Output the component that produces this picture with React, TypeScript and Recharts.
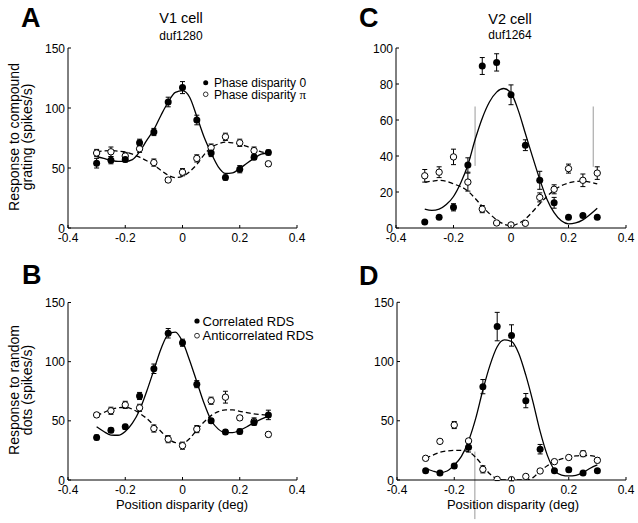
import React from "react";
import { ComposedChart, Line, Scatter, XAxis, YAxis, ErrorBar, ReferenceLine } from "recharts";

const FONT = '"Liberation Sans", Arial, sans-serif';

// measured disparities
const pointX = [-0.3, -0.25, -0.2, -0.15, -0.1, -0.05, 0, 0.05, 0.1, 0.15, 0.2, 0.25, 0.3];
const curveX = [
  -0.3, -0.275, -0.25, -0.225, -0.2, -0.175, -0.15, -0.125, -0.1, -0.075, -0.05, -0.025, 0,
  0.025, 0.05, 0.075, 0.1, 0.125, 0.15, 0.175, 0.2, 0.225, 0.25, 0.275, 0.3,
];

const xTicks = [-0.4, -0.2, 0, 0.2, 0.4];
const xTickLabels = ["-0.4", "-0.2", "0", "0.2", "0.4"];
const ticks150 = [0, 50, 100, 150];
const ticks100 = [0, 20, 40, 60, 80, 100];

// A: V1 cell, compound grating
const aFilled = [54, 56.5, 57, 71, 80, 105, 117, 90, 62.5, 42, 49, 59, 63];
const aFilledErr = [4, 3, 2, 3, 3, 4, 5, 4, 3, 2, 3, 2, 2];
const aOpen = [62.5, 63.5, 60, 66, 54.5, 40, 46.5, 58, 67, 76, 71, 64.5, 53.5];
const aOpenErr = [3, 4, 3, 3, 3, 2, 3, 3, 3, 3, 3, 3, 2];
const aSolid = [59.5, 58, 56.5, 55.5, 55.5, 57, 63.5, 73, 82, 94, 105, 113, 114.5, 109, 93, 76, 62.5, 51, 45.5, 46, 49.5, 54, 58, 61.5, 62.5];
const aDashed = [63.5, 64.2, 64.5, 64, 63.5, 61.5, 59, 56, 52.5, 48, 44, 42, 43, 47, 53, 61, 67, 70, 71.5, 71, 70, 68, 65.5, 63.5, 62.5];

// B: V1 cell, random dots
const bFilled = [36, 42, 45, 71, 94, 124, 116, 81, 50, 40.5, 41, 48.5, 55];
const bFilledErr = [2, 2, 2, 3, 4, 4, 3, 3, 2, 2, 2, 2, 4];
const bOpen = [55, 58.5, 63.5, 61, 43.5, 34.5, 29, 43, 67, 70, 52.5, 49.5, 38.5];
const bOpenErr = [2, 3, 3, 3, 3, 3, 3, 3, 3, 5, 2, 3, 2];
const bSolid = [45, 41, 38, 37.8, 41, 48, 59, 75, 93, 111, 123, 125, 117, 101, 83, 65, 50.5, 43, 40, 40, 42, 45, 48.5, 51.5, 54];
const bDashed = [54.4, 57, 59.8, 61, 61.5, 59.8, 56.4, 52, 46.5, 41, 35, 31.6, 31, 35, 42.3, 49, 54.4, 57.8, 59.2, 59.2, 58, 57, 55.8, 55.3, 54.7];

// C: V2 cell, compound grating
const cFilled = [3.3, 6, 11.5, 35, 90, 92, 74, 46, 26.5, 14, 6, 7, 6];
const cFilledErr = [0.8, 0.8, 2, 4, 4.7, 4.8, 5.5, 3, 5, 3, 0.8, 0.8, 0.8];
const cOpen = [29, 31, 39.5, 25.5, 10.5, 2.8, 1.7, 2.6, 17, 21.5, 33, 26.5, 30.5];
const cOpenErr = [3.5, 3, 4.3, 5, 2, 1, 1, 1, 2.5, 2.5, 2.5, 3.5, 3.5];
const cSolid = [10.5, 9.8, 10.5, 13, 17.5, 25, 35, 49, 61, 70, 75.5, 77.5, 75, 65.5, 52.5, 39.5, 27, 16, 8.5, 4, 2.3, 2.8, 4.5, 7.5, 11];
const cDashed = [25.5, 26, 26.5, 26, 24.5, 23, 20.5, 16.5, 12, 8, 4.5, 2.2, 1.2, 2.5, 5, 9, 13.5, 17.5, 21, 23.5, 25, 25.8, 26, 25.5, 24.5];
const cGrayLines = [
  [{ x: -0.125, y: 34.5 }, { x: -0.125, y: 67.5 }],
  [{ x: 0.286, y: 34 }, { x: 0.286, y: 67.5 }],
];

// D: V2 cell, random dots
const dFilled = [7.9, 5.9, 11.8, 27.6, 78.8, 129.5, 122, 67, 26, 7.9, 8.7, 5.9, 7.9];
const dFilledErr = [1.5, 1.5, 2, 4, 6, 12, 9, 6, 4, 1.5, 1.5, 1.5, 1.5];
const dOpen = [18.3, 32.6, 46.4, 33, 9, 0.5, 0.3, 3, 7.6, 15.5, 19, 22.2, 16.6];
const dOpenErr = [1.5, 1.5, 3, 2, 3, 1, 1, 1, 1.5, 1.5, 1.5, 2.5, 2];
const dSolid = [9.9, 7.6, 6.2, 7.6, 12.7, 20, 33, 52, 76, 97, 112.5, 118.2, 117, 107, 88.5, 66, 41, 21, 8.4, 4.2, 3.4, 3.9, 6.2, 9.9, 12.7];
const dDashed = [18.3, 21, 23.4, 24.5, 25, 25, 24, 19, 12, 5, 1, 0, 0, 0, 0, 2, 7.5, 12, 15.5, 17.8, 19.3, 20.3, 20.8, 20.5, 19.7];
const dGrayLines = [[{ x: -0.128, y: 24 }, { x: -0.128, y: -33 }]];

const rows = (xs: number[], ys: number[], es?: number[]) =>
  xs.map((x, i) => ({ x, y: ys[i], e: es ? es[i] : 0 }));

const FilledDot = (p: any) => <circle cx={p.cx} cy={p.cy} r={3.5} fill="#000" />;
const OpenDot = (p: any) => (
  <circle cx={p.cx} cy={p.cy} r={3.2} fill="#fff" stroke="#000" strokeWidth={1} />
);

function yTick(axisX: number) {
  return (props: any) => {
    const { y, payload } = props;
    return (
      <g>
        <line x1={axisX} x2={axisX + 3} y1={y} y2={y} stroke="#000" />
        <text x={axisX - 3} y={y + 4.5} textAnchor="end" fontSize={12} fontFamily={FONT} fill="#000">
          {payload.value}
        </text>
      </g>
    );
  };
}

function xTick(axisY: number) {
  return (props: any) => {
    const { x, payload } = props;
    return (
      <g>
        <line x1={x} x2={x} y1={axisY} y2={axisY - 3} stroke="#000" />
        <text x={x} y={axisY + 14} textAnchor="middle" fontSize={12} fontFamily={FONT} fill="#000">
          {xTickLabels[xTicks.indexOf(payload.value)]}
        </text>
      </g>
    );
  };
}

type PanelProps = {
  left: number;
  top: number;
  width: number;
  height: number;
  plot: { l: number; t: number; r: number; b: number };
  yMax: number;
  yTicks: number[];
  filled: number[];
  filledErr: number[];
  open: number[];
  openErr: number[];
  solid: number[];
  dashed: number[];
  gray?: { x: number; y: number }[][];
};

function Panel(p: PanelProps) {
  const yw = 30;
  const xh = 20;
  return (
    <div style={{ position: "absolute", left: p.left, top: p.top }}>
      <ComposedChart
        width={p.width}
        height={p.height}
        margin={{ top: p.plot.t, right: p.width - p.plot.r, bottom: p.height - p.plot.b - xh, left: p.plot.l - yw }}
      >
        <XAxis
          type="number"
          dataKey="x"
          domain={[-0.4, 0.4]}
          ticks={xTicks}
          interval={0}
          allowDataOverflow
          height={xh}
          tickLine={false}
          axisLine={{ stroke: "#000" }}
          tick={xTick(p.plot.b)}
        />
        <YAxis
          type="number"
          domain={[0, p.yMax]}
          ticks={p.yTicks}
          interval={0}
          allowDataOverflow
          width={yw}
          tickLine={false}
          axisLine={{ stroke: "#000" }}
          tick={yTick(p.plot.l)}
        />
        {(p.gray || []).map((seg, i) => (
          <ReferenceLine key={i} segment={seg} stroke="#9a9a9a" strokeWidth={1} ifOverflow="visible" />
        ))}
        <Line
          data={rows(curveX, p.solid)}
          dataKey="y"
          type="monotone"
          stroke="#000"
          strokeWidth={1.3}
          dot={false}
          isAnimationActive={false}
        />
        <Line
          data={rows(curveX, p.dashed)}
          dataKey="y"
          type="monotone"
          stroke="#000"
          strokeWidth={1.3}
          strokeDasharray="5 3"
          dot={false}
          isAnimationActive={false}
        />
        <Scatter data={rows(pointX, p.open, p.openErr)} dataKey="y" shape={OpenDot} isAnimationActive={false}>
          <ErrorBar dataKey="e" direction="y" width={2.5} stroke="#000" strokeWidth={1} />
        </Scatter>
        <Scatter data={rows(pointX, p.filled, p.filledErr)} dataKey="y" shape={FilledDot} isAnimationActive={false}>
          <ErrorBar dataKey="e" direction="y" width={2.5} stroke="#000" strokeWidth={1} />
        </Scatter>
      </ComposedChart>
    </div>
  );
}

export default function App() {
  return (
    <div style={{ position: "absolute", left: 0, top: 0, width: 638, height: 523, background: "#fff", overflow: "hidden" }}>
      <Panel
        left={0} top={0} width={320} height={250}
        plot={{ l: 68, t: 48, r: 297, b: 228 }}
        yMax={150} yTicks={ticks150}
        filled={aFilled} filledErr={aFilledErr} open={aOpen} openErr={aOpenErr}
        solid={aSolid} dashed={aDashed}
      />
      <Panel
        left={320} top={0} width={318} height={250}
        plot={{ l: 76, t: 48, r: 306, b: 228 }}
        yMax={100} yTicks={ticks100}
        filled={cFilled} filledErr={cFilledErr} open={cOpen} openErr={cOpenErr}
        solid={cSolid} dashed={cDashed} gray={cGrayLines}
      />
      <Panel
        left={0} top={250} width={320} height={273}
        plot={{ l: 68, t: 52.5, r: 297, b: 230 }}
        yMax={150} yTicks={ticks150}
        filled={bFilled} filledErr={bFilledErr} open={bOpen} openErr={bOpenErr}
        solid={bSolid} dashed={bDashed}
      />
      <Panel
        left={320} top={250} width={318} height={273}
        plot={{ l: 77, t: 52.3, r: 306, b: 230 }}
        yMax={150} yTicks={ticks150}
        filled={dFilled} filledErr={dFilledErr} open={dOpen} openErr={dOpenErr}
        solid={dSolid} dashed={dDashed} gray={dGrayLines}
      />
      <svg width={638} height={523} style={{ position: "absolute", left: 0, top: 0, pointerEvents: "none" }} fontFamily={FONT}>
        <g fontSize={27} fontWeight="bold" fill="#000">
          <text x={21} y={27.3}>A</text>
          <text x={359} y={27.3}>C</text>
          <text x={22} y={284.3}>B</text>
          <text x={359} y={285}>D</text>
        </g>
        <text x={181} y={23.3} fontSize={14.5} textAnchor="middle">V1 cell</text>
        <text x={181} y={39.5} fontSize={12} textAnchor="middle">duf1280</text>
        <text x={510} y={24} fontSize={14.5} textAnchor="middle">V2 cell</text>
        <text x={510} y={39} fontSize={12} textAnchor="middle">duf1264</text>

        <g fontSize={14} textAnchor="middle">
          <text transform="translate(18.5,137) rotate(-90)">Response to compound</text>
          <text transform="translate(31.5,137) rotate(-90)">grating (spikes/s)</text>
          <text transform="translate(18.5,390) rotate(-90)">Response to random</text>
          <text transform="translate(31.5,390) rotate(-90)">dots (spikes/s)</text>
        </g>
        <text x={182} y={509} fontSize={13} textAnchor="middle">Position disparity (deg)</text>
        <text x={513} y={509} fontSize={13} textAnchor="middle">Position disparity (deg)</text>

        <circle cx={205.7} cy={82.7} r={2.5} fill="#000" />
        <text x={214} y={87} fontSize={12}>Phase disparity 0</text>
        <circle cx={205.7} cy={94.3} r={2.3} fill="#fff" stroke="#000" strokeWidth={0.8} />
        <text x={214} y={98.6} fontSize={12}>
          Phase disparity <tspan fontFamily='"Liberation Serif", serif' fontSize={13}>π</tspan>
        </text>

        <circle cx={197} cy={321} r={2.6} fill="#000" />
        <text x={202.5} y={325.7} fontSize={13}>Correlated RDS</text>
        <circle cx={197} cy={335.7} r={2.4} fill="#fff" stroke="#000" strokeWidth={0.8} />
        <text x={202.5} y={340.4} fontSize={13}>Anticorrelated RDS</text>
      </svg>
    </div>
  );
}
